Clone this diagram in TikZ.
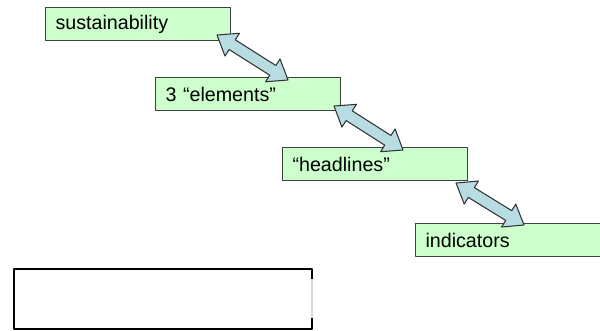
\documentclass[tikz,border=0pt]{standalone}
\usepackage{fontspec}
\setmainfont{Liberation Sans}
\usetikzlibrary{calc}
\definecolor{boxgreen}{HTML}{CCFFCC}
\definecolor{arrowblue}{HTML}{B7DDE3}
\newcommand\arrhead{0.36cm}
\newcommand\arrhalf{0.27cm}
\newcommand\arrshaft{0.115cm}
% double block arrow between two coordinates
\newcommand\dblarrow[2]{%
  \draw[linkarrow] (#1)
    -- ($(#1)!\arrhead!(#2)!\arrhalf!90:(#2)$) -- ($(#1)!\arrhead!(#2)!\arrshaft!90:(#2)$)
    -- ($(#2)!\arrhead!(#1)!\arrshaft!-90:(#1)$) -- ($(#2)!\arrhead!(#1)!\arrhalf!-90:(#1)$)
    -- (#2)
    -- ($(#2)!\arrhead!(#1)!\arrhalf!90:(#1)$) -- ($(#2)!\arrhead!(#1)!\arrshaft!90:(#1)$)
    -- ($(#1)!\arrhead!(#2)!\arrshaft!-90:(#2)$) -- ($(#1)!\arrhead!(#2)!\arrhalf!-90:(#2)$)
    -- cycle;}
\begin{document}
\begin{tikzpicture}[x=0.02cm,y=0.02cm,line join=round,font=\fontsize{11.2}{13}\selectfont,
    stagebox/.style={draw=black!75,line width=0.6pt,fill=boxgreen,anchor=north west,text width=3.3cm,align=left,inner xsep=0.2cm,minimum height=0.66cm},
    linkarrow/.style={draw=black!80,line width=0.6pt,fill=arrowblue}]
  \useasboundingbox (0,0) rectangle (600,-331);
  \node[stagebox] (sust) at (45,-7) {sustainability};
  \node[stagebox] (elem) at (155,-77) {3 “elements”};
  \node[stagebox] (head) at (282,-147) {“headlines”};
  \node[stagebox] (ind) at (415,-223) {indicators};
  % arrow tips
  \coordinate (s1) at ($(sust.south east)+(-14,6)$);
  \coordinate (e1) at ($(elem.north east)+(-53,-3)$);
  \coordinate (e2) at ($(elem.south east)+(-7,5)$);
  \coordinate (h1) at ($(head.north east)+(-65,-3)$);
  \coordinate (h2) at ($(head.south east)+(-12,-2)$);
  \coordinate (i1) at ($(ind.north east)+(-77,-2)$);
  \foreach \a/\b in {s1/e1,e2/h1,h2/i1}
    \dblarrow{\a}{\b};
  % empty box
  \draw[line width=1.7pt] (312,-279)--(312,-269)--(14,-269)--(14,-329)--(312,-329)--(312,-318);
  \draw[black!15,line width=0.6pt] (312,-279)--(312,-318);
\end{tikzpicture}
\end{document}
